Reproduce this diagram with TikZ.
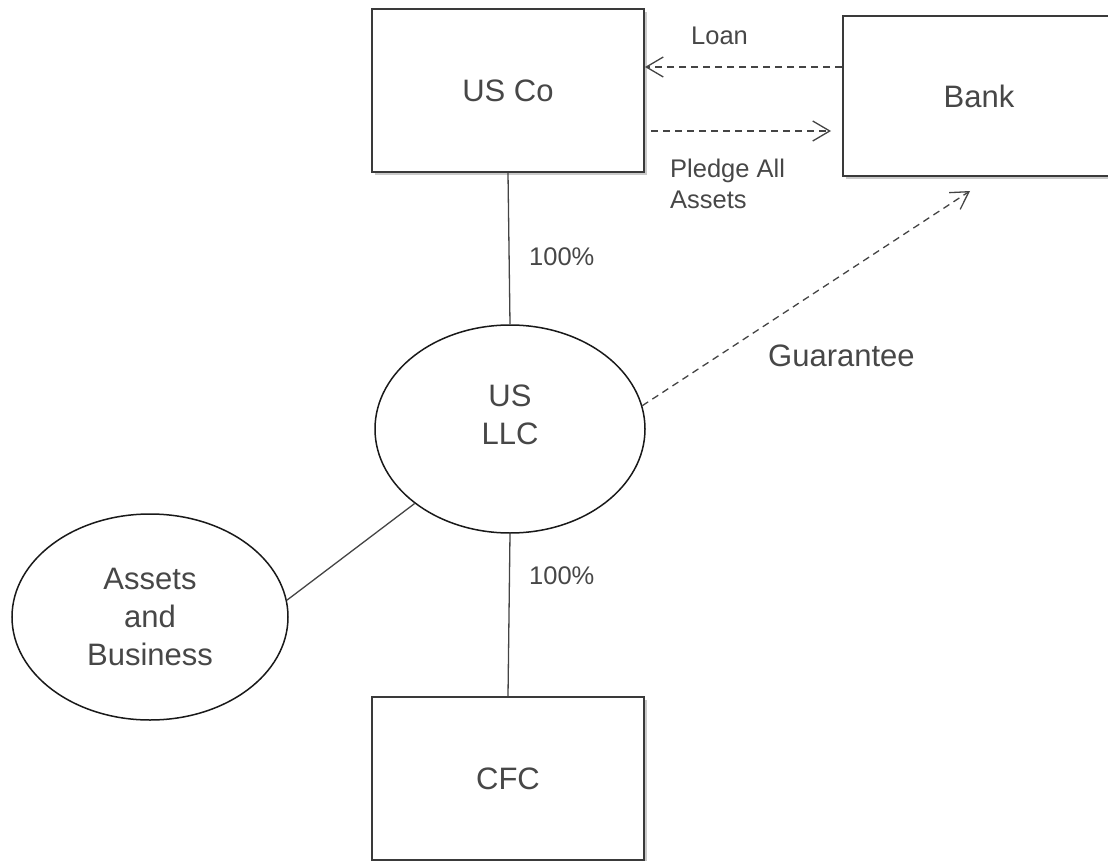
\documentclass[tikz,border=0pt]{standalone}
\usepackage{fontspec}
\setmainfont{Liberation Sans}
\usetikzlibrary{arrows.meta,shadows,shapes.geometric}
\definecolor{txt}{HTML}{474747}
\definecolor{frame}{HTML}{3A3A3A}
\definecolor{conn}{HTML}{444444}
\tikzset{
  entbox/.style={draw=frame, line width=2pt, fill=white, rectangle,
    minimum width=272pt, minimum height=163pt, inner sep=0pt,
    text=txt, font=\fontsize{31}{38}\selectfont,
    drop shadow={shadow xshift=3pt, shadow yshift=-3pt, opacity=0.35, fill=black!60}},
  entell/.style={draw=black!90, line width=1.5pt, fill=white, ellipse,
    inner sep=0pt, text=txt, font=\fontsize{31}{38}\selectfont, align=center},
  bigtxt/.style={text=txt, font=\fontsize{31}{38}\selectfont, inner sep=0pt},
  smalltxt/.style={text=txt, font=\fontsize{25.5}{31}\selectfont, inner sep=0pt},
  solidline/.style={draw=conn, line width=1.3pt},
  dashline/.style={draw=conn, line width=1.3pt, dash pattern=on 7pt off 5pt,
    -{Straight Barb[length=17pt,width=20pt,line width=1.3pt]}}
}
\begin{document}
\begin{tikzpicture}[x=1pt,y=-1pt]
\useasboundingbox (0,0) rectangle (1108,861);
\clip (0,0) rectangle (1108,861);
% boxes
\node[entbox] (usco) at (508,90.5) {US Co};
\node[entbox, minimum height=160pt] (bank) at (979,96) {Bank};
\node[entbox] (cfc) at (508,778.5) {CFC};
% ellipses
\node[entell, minimum width=270pt, minimum height=208pt] (llc) at (510,429) {};
\node[bigtxt, align=center] (llctext) at (510,415) {US\\LLC};
\node[entell, minimum width=276pt, minimum height=206pt] (assets) at (150,617) {Assets\\and\\Business};
% free end of guarantee arrow
\coordinate (gend) at (970,191);
% connectors
\draw[solidline] (usco.south) -- (llc.north);
\draw[solidline] (llc.south) -- (cfc.north);
\draw[solidline] (llc.218) -- (assets.7);
\draw[dashline] ([yshift=29pt]bank.west) -- ([yshift=23.5pt]usco.east);
\draw[dashline] ([xshift=6pt,yshift=-40.5pt]usco.east) -- ([xshift=-11pt,yshift=-35pt]bank.west);
\draw[dashline] (llc.10) -- (gend);
% labels
\node[smalltxt, anchor=base west] (loan) at (691,45) {Loan};
\node[smalltxt, anchor=north west, align=left] (pledge) at (670,158.5) {Pledge All\\Assets};
\node[smalltxt, anchor=base west] (pcttop) at (529,265) {100\%};
\node[smalltxt, anchor=base west] (pctbot) at (529,584) {100\%};
\node[bigtxt, anchor=base west] (guar) at (768,366) {Guarantee};
\end{tikzpicture}
\end{document}
